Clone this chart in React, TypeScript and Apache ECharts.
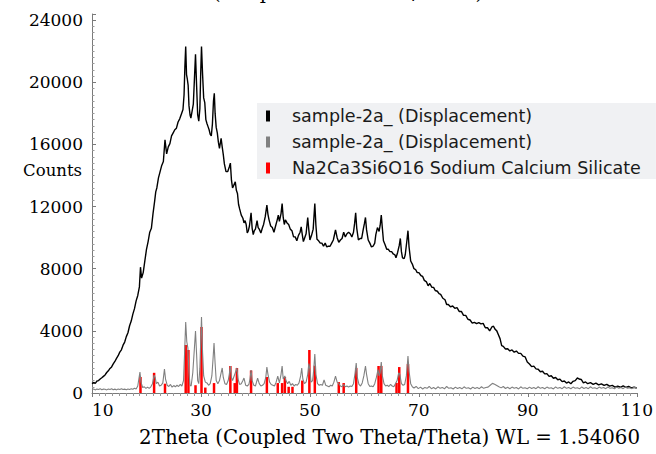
import React, { useEffect, useRef } from "react";
import * as echarts from "echarts";

const legendNames = [
  "sample-2a_ (Displacement)",
  "sample-2a_ (Displacement) ",
  "Na2Ca3Si6O16 Sodium Calcium Silicate",
];

const xTitle = "2Theta (Coupled Two Theta/Theta) WL = 1.54060";
const topCutTitle = "(Coupled Two Theta/Theta)";
const yTitle = "Counts";

const xMin = 10;
const xMax = 110;
const xStep = 20;
const yMax = 24400;
const yStep = 4000;

// raw scan (2theta, counts)
const rawScan: [number, number][] = [
  [10.0,600],[10.3,680],[10.6,620],[10.9,770],[11.2,800],[11.5,900],[11.8,980],[12.1,1070],[12.4,1160],[12.7,1320],
  [13.0,1430],[13.3,1580],[13.6,1680],[13.9,1870],[14.2,2030],[14.5,2230],[14.8,2400],[15.1,2630],[15.4,2780],[15.7,3080],
  [16.0,3280],[16.3,3630],[16.6,3880],[16.9,4330],[17.2,4630],[17.5,5080],[17.8,5430],[18.1,5930],[18.4,6280],[18.7,6830],
  [18.9,8100],[19.1,7400],[19.4,7750],[19.7,8500],[20.0,9250],[20.3,9750],[20.6,10350],[20.9,10600],[21.2,11550],[21.5,12350],
  [21.7,12950],[21.9,13200],[22.2,13850],[22.5,14250],[22.8,14650],[23.1,14900],[23.4,16300],[23.7,15400],[24.0,15850],[24.3,16050],
  [24.6,16550],[24.9,16750],[25.2,16950],[25.5,17050],[25.8,17450],[26.1,17650],[26.4,17950],[26.7,18250],[26.9,19200],[27.05,21000],
  [27.2,22300],[27.35,20500],[27.5,20200],[27.65,19800],[27.8,18500],[28.0,17900],[28.15,17700],[28.4,18200],[28.6,18600],[28.8,20200],
  [29.0,21800],[29.2,19800],[29.4,17900],[29.6,17500],[29.8,18300],[29.95,20500],[30.1,22300],[30.3,20500],[30.5,19000],[30.7,18700],
  [30.9,17600],[31.1,17350],[31.3,17150],[31.5,16950],[31.7,16650],[31.9,16550],[32.1,17300],[32.3,18800],[32.45,19300],[32.6,18000],
  [32.8,17100],[33.0,16750],[33.2,16150],[33.4,15750],[33.7,16400],[33.9,15850],[34.1,15350],[34.3,14750],[34.6,14250],[34.9,14250],
  [35.2,14550],[35.4,14800],[35.6,13700],[35.8,13200],[36.0,13350],[36.3,13600],[36.5,13050],[36.7,12850],[36.9,12150],[37.1,11850],
  [37.4,11450],[37.7,11250],[37.9,10950],[38.1,11100],[38.3,10850],[38.5,10300],[38.7,10450],[38.9,10750],[39.2,11600],[39.4,10600],
  [39.6,10200],[39.8,10450],[40.0,10550],[40.3,11100],[40.5,10650],[40.7,10550],[41.0,10300],[41.3,10650],[41.5,10850],[41.8,11350],
  [42.1,12100],[42.3,11500],[42.5,11150],[42.8,10750],[43.1,10650],[43.4,10350],[43.7,10750],[44.0,11150],[44.2,11450],[44.4,11050],
  [44.7,11550],[44.9,12200],[45.1,11300],[45.3,10850],[45.5,11150],[45.8,10950],[46.1,10850],[46.4,10550],[46.7,10450],[47.0,10050],
  [47.3,10050],[47.6,9800],[47.9,10150],[48.2,10350],[48.4,10700],[48.6,10200],[48.8,9750],[49.0,9950],[49.3,10250],[49.6,11300],
  [49.8,10500],[50.0,9850],[50.3,10150],[50.6,10550],[50.9,12200],[51.1,10800],[51.3,9900],[51.6,9800],[51.9,9650],[52.2,9650],
  [52.5,9450],[52.8,9650],[53.1,9400],[53.4,9450],[53.7,9450],[54.0,9650],[54.3,9850],[54.7,10500],[55.0,10000],[55.3,9700],
  [55.6,9850],[55.9,9950],[56.2,10350],[56.5,10050],[56.8,10250],[57.1,10350],[57.4,10250],[57.7,10050],[58.0,10350],[58.2,10900],
  [58.4,11600],[58.6,10600],[58.9,9850],[59.2,9950],[59.5,9950],[59.8,10550],[60.0,10900],[60.2,11300],[60.4,10500],[60.7,9850],
  [61.0,9650],[61.3,9400],[61.6,9450],[61.9,9650],[62.1,10200],[62.4,10650],[62.7,10400],[62.9,10800],[63.1,11450],[63.3,10600],
  [63.5,9800],[63.8,9550],[64.1,9250],[64.4,9250],[64.7,9100],[65.0,9100],[65.3,8950],[65.6,8900],[65.8,8700],[66.1,9050],
  [66.4,9500],[66.6,9950],[66.8,9100],[67.0,8700],[67.3,8650],[67.5,8900],[67.8,9800],[68.0,10450],[68.2,9400],[68.5,8500],
  [68.8,8300],[69.1,8000],[69.4,7950],[69.7,7750],[70.0,7750],[70.4,7550],[70.7,7500],[71.0,7250],[71.4,7150],[71.7,6900],
  [72.0,7050],[72.4,6800],[72.7,6800],[73.0,6600],[73.4,6550],[73.7,6400],[74.0,6350],[74.4,6100],[74.8,6000],[75.1,5700],
  [75.4,5700],[75.8,5550],[76.2,5600],[76.6,5450],[77.0,5500],[77.4,5250],[77.8,5250],[78.2,5000],[78.6,5000],[79.0,4750],
  [79.4,4700],[79.8,4500],[80.2,4550],[80.6,4470],[81.0,4530],[81.4,4450],[81.8,4480],[82.2,4200],[82.6,4200],[83.0,4000],
  [83.4,4250],[83.7,4300],[84.0,4100],[84.3,4000],[84.6,3750],[84.9,3500],[85.2,3050],[85.5,3000],[85.9,2830],[86.3,2850],
  [86.7,2710],[87.1,2770],[87.5,2630],[87.9,2700],[88.3,2550],[88.7,2550],[89.1,2370],[89.5,2330],[89.9,2000],[90.3,1870],
  [90.7,1700],[91.1,1730],[91.5,1550],[91.9,1530],[92.3,1370],[92.7,1400],[93.1,1230],[93.5,1250],[93.9,1070],[94.3,1110],
  [94.7,950],[95.1,1000],[95.5,850],[95.9,890],[96.3,730],[96.7,770],[97.1,640],[97.5,710],[97.9,600],[98.3,750],
  [98.7,800],[99.1,970],[99.4,900],[99.8,870],[100.2,650],[100.6,710],[101.0,600],[101.5,670],[102.0,560],[102.5,630],
  [103.0,520],[103.5,590],[104.0,490],[104.5,560],[105.0,440],[105.5,490],[106.0,380],[106.5,440],[107.0,370],[107.5,460],
  [108.0,360],[108.5,420],[109.0,330],[109.5,370],[110.0,320],
];

// background-subtracted scan (2theta, counts)
const netScan: [number, number][] = [
  [10.0,220],[10.3,260],[10.6,200],[10.9,250],[11.2,230],[11.5,280],[11.8,210],[12.1,250],[12.4,240],[12.7,200],
  [13.0,260],[13.3,230],[13.6,270],[13.9,210],[14.2,250],[14.5,200],[14.8,260],[15.1,230],[15.4,280],[15.7,220],
  [16.0,250],[16.3,210],[16.6,260],[16.9,230],[17.2,270],[17.5,240],[17.8,300],[18.1,260],[18.4,450],[18.6,900],
  [18.8,1350],[19.0,700],[19.3,350],[19.6,400],[19.9,300],[20.2,380],[20.5,300],[20.8,400],[21.1,600],[21.4,1150],
  [21.6,1000],[21.8,600],[22.1,700],[22.4,450],[22.7,500],[23.0,650],[23.3,1540],[23.5,900],[23.8,500],[24.1,420],
  [24.4,550],[24.7,380],[25.0,480],[25.3,400],[25.6,500],[25.9,420],[26.2,550],[26.5,450],[26.8,800],[27.0,2600],
  [27.2,4570],[27.4,3300],[27.6,2900],[27.8,1300],[28.0,500],[28.2,450],[28.5,1300],[28.8,2900],[29.0,3990],[29.2,2500],
  [29.4,800],[29.6,600],[29.8,1600],[30.1,4890],[30.3,2600],[30.5,1100],[30.8,700],[31.1,650],[31.4,500],[31.7,600],
  [32.0,1100],[32.2,2100],[32.4,3220],[32.6,1900],[32.8,800],[33.1,600],[33.4,800],[33.7,1300],[33.9,1610],[34.1,1000],
  [34.4,600],[34.7,550],[35.0,800],[35.2,1200],[35.4,1740],[35.6,1000],[35.8,800],[36.0,1000],[36.3,1300],[36.6,1610],
  [36.8,900],[37.1,550],[37.4,600],[37.7,800],[37.9,960],[38.2,500],[38.5,450],[38.8,550],[39.0,900],[39.2,1480],
  [39.4,800],[39.7,500],[40.0,450],[40.2,700],[40.4,960],[40.7,600],[41.0,450],[41.3,500],[41.6,600],[41.9,1000],
  [42.1,1670],[42.3,1200],[42.6,700],[42.9,550],[43.2,500],[43.5,450],[43.8,700],[44.1,1090],[44.4,650],[44.7,1200],
  [44.9,1740],[45.1,900],[45.4,1100],[45.6,800],[45.9,600],[46.2,750],[46.5,500],[46.8,600],[47.1,450],[47.4,550],
  [47.7,500],[48.0,650],[48.3,1100],[48.5,1610],[48.7,900],[49.0,600],[49.3,700],[49.6,1200],[49.8,1900],[50.0,1500],
  [50.2,700],[50.5,800],[50.7,1500],[50.9,2510],[51.1,1200],[51.4,600],[51.7,500],[52.0,550],[52.3,500],[52.6,850],
  [52.9,500],[53.2,450],[53.5,400],[53.8,500],[54.1,450],[54.4,700],[54.7,1090],[55.0,700],[55.3,600],[55.6,450],
  [55.9,400],[56.2,550],[56.5,400],[56.8,450],[57.1,380],[57.4,450],[57.7,420],[58.0,600],[58.3,1300],[58.5,1930],
  [58.7,1000],[59.0,550],[59.3,450],[59.6,650],[59.9,1100],[60.2,1740],[60.4,1200],[60.7,600],[61.0,420],[61.3,450],
  [61.6,400],[61.9,600],[62.2,1000],[62.5,1500],[62.7,1100],[62.9,1300],[63.1,2000],[63.3,1100],[63.6,600],[63.9,450],
  [64.2,500],[64.5,420],[64.8,550],[65.1,450],[65.4,400],[65.7,600],[66.0,800],[66.3,1300],[66.5,1200],[66.8,600],
  [67.1,500],[67.4,550],[67.7,1100],[67.9,1900],[68.0,2380],[68.2,1400],[68.5,600],[68.8,400],[69.1,320],[69.5,420],
  [69.9,280],[70.3,380],[70.7,260],[71.1,360],[71.5,300],[71.9,420],[72.3,280],[72.7,350],[73.1,260],[73.5,400],
  [73.9,300],[74.3,360],[74.7,270],[75.1,420],[75.5,300],[75.9,340],[76.3,260],[76.7,380],[77.1,290],[77.5,350],
  [77.9,270],[78.3,400],[78.7,300],[79.1,340],[79.5,260],[79.9,380],[80.3,290],[80.7,350],[81.1,280],[81.5,400],
  [81.9,300],[82.3,350],[82.7,380],[83.1,500],[83.5,620],[83.9,560],[84.3,480],[84.7,400],[85.1,330],[85.5,420],
  [85.9,290],[86.3,370],[86.7,270],[87.1,380],[87.5,300],[87.9,350],[88.3,260],[88.7,400],[89.1,300],[89.5,340],
  [89.9,270],[90.3,380],[90.7,290],[91.1,360],[91.5,280],[91.9,400],[92.3,300],[92.7,350],[93.1,270],[93.5,380],
  [93.9,300],[94.3,340],[94.7,260],[95.1,390],[95.5,300],[95.9,350],[96.3,280],[96.7,400],[97.1,300],[97.5,350],
  [97.9,270],[98.3,380],[98.7,300],[99.1,340],[99.5,270],[99.9,390],[100.3,290],[100.7,350],[101.1,280],[101.5,400],
  [101.9,300],[102.3,340],[102.7,270],[103.1,380],[103.5,300],[103.9,350],[104.3,280],[104.7,390],[105.1,300],[105.5,340],
  [105.9,270],[106.3,380],[106.7,300],[107.1,350],[107.5,280],[107.9,390],[108.3,300],[108.7,340],[109.1,280],[109.5,370],
  [110.0,320],
];

// reference pattern sticks (2theta, counts)
const refSticks: [number, number][] = [
  [18.9,1030],[21.4,1300],[23.4,600],[27.2,3090],[27.7,2770],[29.0,500],[30.1,4250],[30.8,350],
  [32.4,640],[35.4,1740],[36.2,640],[36.6,1610],[39.2,1450],[42.1,1030],[44.1,640],[44.9,640],
  [45.4,1030],[46.1,400],[46.8,400],[48.6,800],[49.9,2770],[50.9,1760],[55.3,700],[56.2,640],
  [58.5,1610],[62.6,1740],[63.1,1740],[65.9,650],[66.4,1670],[68.0,1870],
];

const seriesColors = ["#000000", "#808080", "#ff0000"];

export default function App() {
  const ref = useRef<HTMLDivElement>(null);
  useEffect(() => {
    if (!ref.current) return;
    const chart = echarts.init(ref.current, undefined, { renderer: "svg" });
    const serif = "DejaVu Serif";
    const axisColor = "#7a7a7a";
    chart.setOption({
      animation: false,
      backgroundColor: "#ffffff",
      grid: { left: 92, right: 16, top: 14, bottom: 61, containLabel: false },
      legend: {
        orient: "vertical",
        left: 257,
        top: 103,
        backgroundColor: "#f0f1f3",
        padding: [4, 15, 2, 9],
        itemGap: 8,
        itemWidth: 4,
        itemHeight: 11,
        icon: "rect",
        data: legendNames,
        textStyle: {
          fontFamily: "DejaVu Sans",
          fontSize: 17.5,
          color: "#1a1a1a",
          lineHeight: 17,
          padding: [0, 0, 0, 17],
        },
      },
      xAxis: {
        type: "value",
        min: xMin,
        max: xMax,
        interval: xStep,
        axisLine: { show: true, lineStyle: { color: axisColor, width: 1 } },
        axisTick: { show: true, length: 4, lineStyle: { color: axisColor } },
        minorTick: { show: true, splitNumber: 16, length: 3, lineStyle: { color: "#999" } },
        splitLine: { show: false },
        axisLabel: {
          fontFamily: serif,
          fontSize: 17,
          color: "#000",
          margin: 8,
          alignMinLabel: "left",
        },
      },
      yAxis: {
        type: "value",
        min: 0,
        max: yMax,
        interval: yStep,
        axisLine: { show: true, lineStyle: { color: axisColor, width: 1 } },
        axisTick: { show: true, inside: true, length: 4, lineStyle: { color: axisColor } },
        minorTick: { show: true, splitNumber: 10, length: 2.5, lineStyle: { color: "#999" } },
        splitLine: { show: false },
        axisLabel: {
          fontFamily: serif,
          fontSize: 17,
          color: "#000",
          margin: 9,
          formatter: (v: number) => (v % yStep === 0 ? String(v) : ""),
        },
      },
      graphic: [
        {
          type: "text",
          left: 213,
          top: -18,
          style: { text: topCutTitle, fontFamily: serif, fontSize: 19.5, fill: "#000" },
        },
        {
          type: "text",
          x: 82,
          y: 170,
          style: {
            text: yTitle,
            fontFamily: serif,
            fontSize: 16.5,
            fill: "#000",
            align: "right",
            verticalAlign: "middle",
          },
        },
        {
          type: "text",
          x: 640,
          y: 437,
          style: {
            text: xTitle,
            fontFamily: serif,
            fontSize: 19.8,
            fill: "#000",
            align: "right",
            verticalAlign: "middle",
          },
        },
      ],
      series: [
        {
          name: legendNames[0],
          type: "line",
          data: rawScan,
          color: seriesColors[0],
          showSymbol: false,
          symbol: "none",
          lineStyle: { color: seriesColors[0], width: 1.4 },
        },
        {
          name: legendNames[1],
          type: "line",
          data: netScan,
          color: seriesColors[1],
          showSymbol: false,
          symbol: "none",
          lineStyle: { color: seriesColors[1], width: 1.1 },
        },
        {
          name: legendNames[2],
          type: "bar",
          data: refSticks,
          color: seriesColors[2],
          barWidth: 2.5,
          itemStyle: { color: seriesColors[2] },
        },
      ],
    });
    return () => chart.dispose();
  }, []);
  return (
    <div
      ref={ref}
      style={{ position: "absolute", left: 0, top: 0, width: 656, height: 454 }}
    />
  );
}
